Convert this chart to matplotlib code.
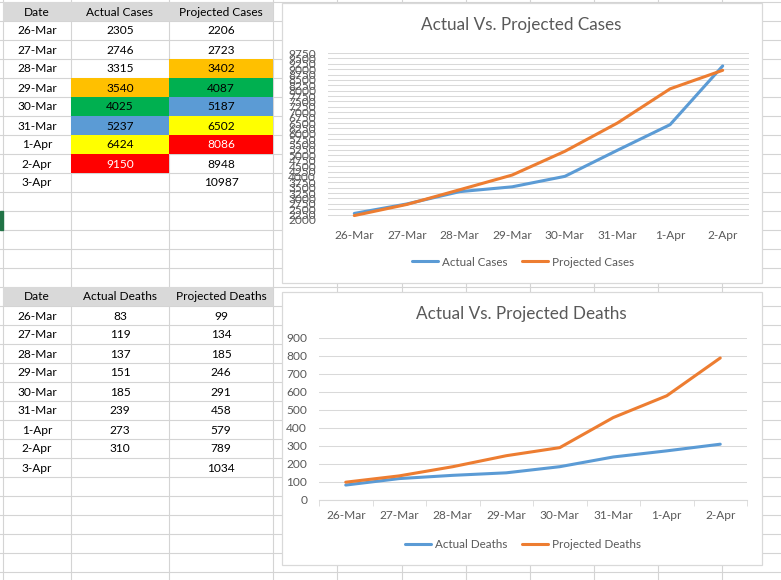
import numpy as np
import matplotlib
matplotlib.use('Agg')
import matplotlib.pyplot as plt
from matplotlib.patches import Rectangle

plt.rcParams['font.family'] = ['Lato', 'DejaVu Sans']

# data
dates = ['26-Mar', '27-Mar', '28-Mar', '29-Mar', '30-Mar', '31-Mar', '1-Apr', '2-Apr', '3-Apr']
actual_cases = [2305, 2746, 3315, 3540, 4025, 5237, 6424, 9150]
projected_cases = [2206, 2723, 3402, 4087, 5187, 6502, 8086, 8948, 10987]
actual_deaths = [83, 119, 137, 151, 185, 239, 273, 310]
projected_deaths = [99, 134, 185, 246, 291, 458, 579, 789, 1034]

# fill colours of the highlighted cells (table row index -> colour)
actual_fill = {3: '#FFC000', 4: '#00B050', 5: '#5B9BD5', 6: '#FFFF00', 7: '#FF0000'}
projected_fill = {2: '#FFC000', 3: '#00B050', 4: '#5B9BD5', 5: '#FFFF00', 6: '#FF0000'}

W, H = 781, 580
fig = plt.figure(figsize=(W / 100, H / 100), dpi=100)
bg = fig.add_axes([0, 0, 1, 1])
bg.set_xlim(0, W)
bg.set_ylim(H, 0)
bg.axis('off')

grid_c = '#D4D4D4'
col_x = [3, 71, 169, 273, 337, 402, 466, 530, 594, 658, 722]
row_h = 19
row_y = [2 + row_h * k for k in range(31)]

for x in col_x:
    bg.plot([x, x], [0, H], color=grid_c, lw=0.8, zorder=1)
for y in row_y:
    bg.plot([0, W], [y, y], color=grid_c, lw=0.8, zorder=1)

# active cell marker
bg.add_patch(Rectangle((0, row_y[11]), 2.5, row_h, color='#217346', zorder=3))


def cell(col, row, text, fill=None, color='black'):
    x0, x1 = col_x[col], col_x[col + 1]
    y0 = row_y[row]
    if fill:
        bg.add_patch(Rectangle((x0, y0), x1 - x0, row_h, facecolor=fill,
                               edgecolor='none', zorder=2))
    bg.text((x0 + x1) / 2, y0 + row_h / 2 + 0.5, text, ha='center', va='center',
            fontsize=8.6, color=color, zorder=4)


def table(start, headers, actual, projected, a_fill, p_fill):
    for c, h in enumerate(headers):
        cell(c, start, h, fill='#D9D9D9')
    for i, d in enumerate(dates):
        r = start + 1 + i
        cell(0, r, d)
        if i < len(actual):
            f = a_fill.get(i)
            cell(1, r, str(actual[i]), fill=f,
                 color='white' if f == '#FF0000' else 'black')
        f = p_fill.get(i)
        cell(2, r, str(projected[i]), fill=f,
             color='white' if f == '#FF0000' else 'black')


table(0, ['Date', 'Actual Cases', 'Projected Cases'], actual_cases, projected_cases,
      actual_fill, projected_fill)
table(15, ['Date', 'Actual Deaths', 'Projected Deaths'], actual_deaths, projected_deaths,
      {}, {})

# chart boxes
for (x0, y0, x1, y1) in [(282, 3, 762, 283), (282, 292, 762, 565)]:
    bg.add_patch(Rectangle((x0, y0), x1 - x0, y1 - y0, facecolor='white',
                           edgecolor='#D9D9D9', lw=0.9, zorder=5))

txt_c = '#595959'
bg.text(521, 25, 'Actual Vs. Projected Cases', ha='center', va='center',
        fontsize=12.3, color=txt_c, zorder=6)
bg.text(521, 314, 'Actual Vs. Projected Deaths', ha='center', va='center',
        fontsize=12.3, color=txt_c, zorder=6)


def box(x0, y0, x1, y1):
    return [x0 / W, 1 - y1 / H, (x1 - x0) / W, (y1 - y0) / H]


def chart(rect, actual, projected, names, yticks, axis_line, legend_xy):
    ax = fig.add_axes(box(*rect))
    ax.set_facecolor('none')
    n = len(actual)
    ax.plot(range(n), actual, color='#5B9BD5', lw=2.2, label=names[0],
            solid_capstyle='round', zorder=3)
    ax.plot(range(n), projected[:n], color='#ED7D31', lw=2.2, label=names[1],
            solid_capstyle='round', zorder=4)
    ax.set_xlim(-0.5, n - 0.5)
    ax.set_ylim(yticks[0], yticks[-1])
    ax.set_yticks(yticks)
    ax.set_yticklabels([str(v) for v in yticks])
    ax.set_xticks(range(n))
    ax.set_xticklabels(dates[:n])
    ax.grid(axis='y', color='#D9D9D9', lw=0.75)
    ax.set_axisbelow(True)
    for s in ax.spines.values():
        s.set_visible(False)
    ax.tick_params(axis='both', length=0, labelsize=8.6, labelcolor=txt_c)
    ax.tick_params(axis='y', pad=8.5)
    ax.tick_params(axis='x', pad=7)
    if axis_line:
        ax.spines['bottom'].set_visible(True)
        ax.spines['bottom'].set_color('#D9D9D9')
        ax.set_xticks(np.arange(-0.5, n), minor=True)
        ax.tick_params(axis='x', which='minor', length=4, color='#D9D9D9')
    leg = ax.legend(loc='center', bbox_to_anchor=(legend_xy[0] / W, 1 - legend_xy[1] / H),
                    bbox_transform=fig.transFigure, ncol=2, frameon=False,
                    fontsize=8.4, handlelength=2.2, handletextpad=0.35,
                    columnspacing=1.3)
    for t in leg.get_texts():
        t.set_color(txt_c)
    return ax


chart((328, 53, 749, 220), actual_cases, projected_cases,
      ['Actual Cases', 'Projected Cases'], list(range(2000, 9751, 250)), False, (523, 262))
chart((319, 338, 747, 500), actual_deaths, projected_deaths,
      ['Actual Deaths', 'Projected Deaths'], list(range(0, 901, 100)), True, (523, 545))

fig.savefig('out.png', dpi=100)
